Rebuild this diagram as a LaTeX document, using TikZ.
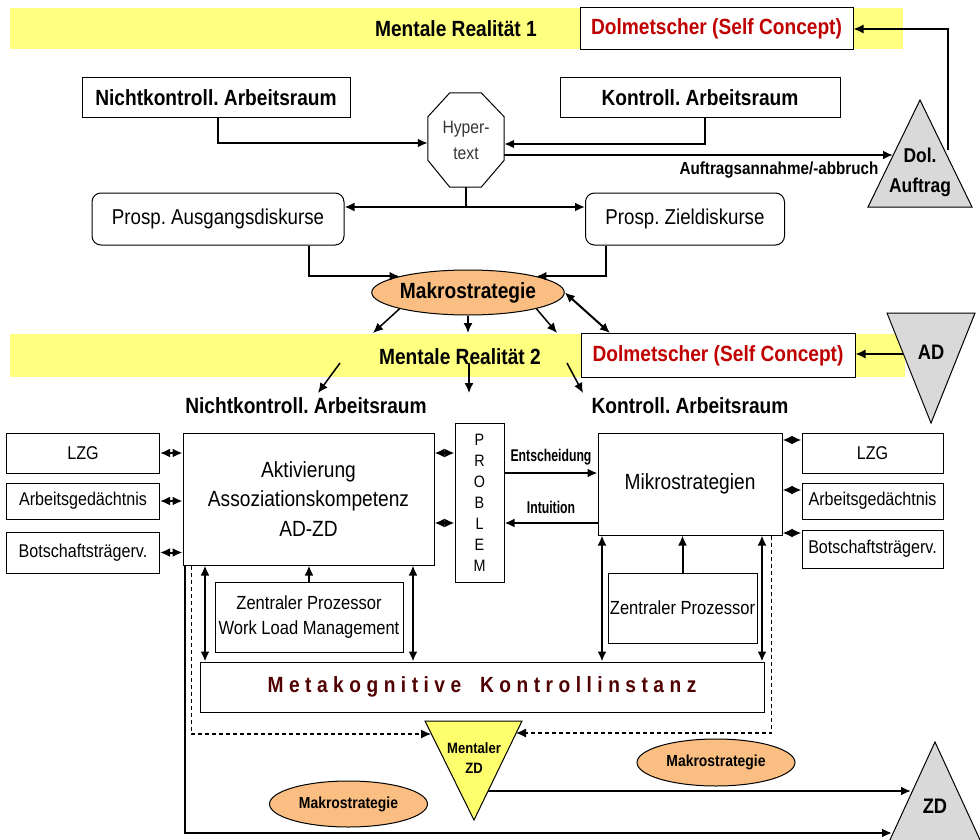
\documentclass[tikz,border=0pt]{standalone}
\usepackage{fontspec}
\setmainfont{Liberation Sans}[FakeStretch=0.87]
\newfontfamily\narrowfont{Liberation Sans}[FakeStretch=0.72]
\newfontfamily\spacedfont{Liberation Sans}[FakeStretch=0.87,LetterSpace=25]
\usepackage{xcolor}
\definecolor{bandyellow}{RGB}{255,255,128}
\definecolor{zdyellow}{RGB}{255,255,110}
\definecolor{makroorange}{RGB}{250,190,130}
\definecolor{trigray}{RGB}{217,217,217}
\definecolor{dolred}{RGB}{192,0,0}
\definecolor{metared}{RGB}{80,0,0}
\usetikzlibrary{arrows.meta,shapes.geometric}

\tikzset{
  box/.style={draw, fill=white, line width=1pt, inner sep=0pt, align=center},
  roundbox/.style={box, rounded corners=9pt},
  makro/.style={ellipse, draw, fill=makroorange, line width=1pt, inner sep=0pt},
  tri/.style={draw, line width=1pt},
  arr/.style={line width=2pt, -{Latex[length=10pt,width=9pt]}},
  darr/.style={line width=2pt, {Latex[length=10pt,width=9pt]}-{Latex[length=10pt,width=9pt]}},
  dashline/.style={line width=1.2pt, dash pattern=on 4pt off 3pt, -{Latex[length=10pt,width=9pt]}},
  head/.style={font=\fontsize{22}{26}\selectfont\bfseries},
  body/.style={font=\fontsize{22}{29.5}\selectfont},
  small/.style={font=\fontsize{18.5}{22}\selectfont},
  tag/.style={font=\narrowfont\fontsize{17}{20}\selectfont\bfseries}
}

\begin{document}
\frenchspacing
\begin{tikzpicture}[x=1pt, y=-1pt]
\useasboundingbox (0,0) rectangle (980,840);

% bands
\fill[bandyellow] (10,8) rectangle (903,49);
\fill[bandyellow] (10,334) rectangle (905,377);

% mentale realitaet 1
\node[head] (mr1) at (456,29) {Mentale Realität 1};
\node[box, head, text=dolred, minimum width=273, minimum height=42] (dol1) at (716.5,29) {Dolmetscher (Self Concept)};
\node[box, head, minimum width=268, minimum height=40] (nk1) at (216,98) {Nichtkontroll. Arbeitsraum};
\node[box, head, minimum width=280, minimum height=40] (k1) at (700,98) {Kontroll. Arbeitsraum};
\node[align=center, inner sep=0pt, minimum width=76, minimum height=94,
      font=\fontsize{18}{26}\selectfont, text=black!80] (hyp) at (466,140) {Hyper-\\text};
\draw[line width=1pt] ([xshift=22]hyp.north west) -- ([xshift=-23]hyp.north east)
  -- ([yshift=-24]hyp.north east) -- ([yshift=27]hyp.south east)
  -- ([xshift=-23]hyp.south east) -- ([xshift=22]hyp.south west)
  -- ([yshift=27]hyp.south west) -- ([yshift=-24]hyp.north west) -- cycle;

% dol. auftrag
\draw[tri, fill=trigray] (868,207) -- (920,100) -- (972,207) -- cycle;
\node[align=center, font=\fontsize{20}{30}\selectfont\bfseries] (auftrag) at (920,172) {Dol.\\Auftrag};
\coordinate (auftragin) at (893,155);
\coordinate (auftragout) at (948,150);

\draw[arr] ([xshift=2]nk1.south) |- ([yshift=-3]hyp.west);
\draw[arr] ([xshift=5]k1.south) |- ([yshift=-4]hyp.east);
\draw[arr] (hyp.east |- auftragin) -- (auftragin);
\node[font=\fontsize{17.5}{20}\selectfont\bfseries] (annahme) at (779,170) {Auftragsannahme/-abbruch};
\draw[line width=1.5pt, -{Latex[length=10pt,width=9pt]}] (auftragout) |- (dol1.east);

% prospektive diskurse
\node[roundbox, font=\fontsize{21.5}{26}\selectfont, minimum width=252, minimum height=52] (ausg) at (218,219) {Prosp. Ausgangsdiskurse};
\node[roundbox, font=\fontsize{21.5}{26}\selectfont, minimum width=199, minimum height=52] (ziel) at (685,219) {Prosp. Zieldiskurse};
\coordinate (hj) at (466,207);
\draw[line width=2pt] (hyp.south) -- (hj);
\draw[darr] (ausg.east |- hj) -- (ziel.west |- hj);

% makrostrategie
\node[makro, head, minimum width=192, minimum height=45] (makro) at (468,292.5) {Makrostrategie};
\draw[arr] ([xshift=91]ausg.south) |- (makro.north west);
\draw[arr] ([xshift=-79]ziel.south) |- (makro.north east);
\coordinate (m1) at (373,333);
\coordinate (m2) at (468,333);
\coordinate (m3) at (557,333);
\draw[arr, line width=1.5pt] (makro.south west) -- (m1);
\draw[arr, line width=1.5pt] (makro.south) -- (m2);
\draw[arr, line width=1.5pt] (makro.south east) -- (m3);

% mentale realitaet 2
\node[head] (mr2) at (460,357) {Mentale Realität 2};
\node[box, head, text=dolred, minimum width=274, minimum height=44] (dol2) at (718,355.5) {Dolmetscher (Self Concept)};
\draw[darr] (makro.east) -- ([xshift=-108]dol2.north);
\draw[tri, fill=trigray] (887,313) -- (975,313) -- (931,423) -- cycle;
\node[font=\fontsize{21}{24}\selectfont\bfseries] (ad) at (931,352) {AD};
\coordinate (adout) at (903,354);
\draw[line width=1.5pt, -{Latex[length=10pt,width=9pt]}] (adout) -- (dol2.east |- adout);

\node[head] (nk2) at (306,406) {Nichtkontroll. Arbeitsraum};
\node[head] (k2) at (690,406) {Kontroll. Arbeitsraum};
\coordinate (b1s) at (340,363); \coordinate (b1e) at (318,393);
\coordinate (b2s) at (469,363); \coordinate (b2e) at (469,393);
\coordinate (b3s) at (567,363); \coordinate (b3e) at (583,393);
\draw[arr, line width=1.5pt] (b1s) -- (b1e);
\draw[arr, line width=1.5pt] (b2s) -- (b2e);
\draw[arr, line width=1.5pt] (b3s) -- (b3e);

% nichtkontroll. seite
\node[box, small, minimum width=153, minimum height=40] (lzgL) at (83,453) {LZG};
\node[box, small, minimum width=153, minimum height=36] (agL) at (83,501) {Arbeitsgedächtnis};
\node[box, small, minimum width=153, minimum height=41] (bsL) at (83,552.5) {Botschaftsträgerv.};
\node[box, body, minimum width=251, minimum height=132] (akt) at (308.5,499) {Aktivierung\\Assoziationskompetenz\\AD-ZD};
\draw[darr] (lzgL.east) -- (lzgL.east -| akt.west);
\draw[darr] (agL.east) -- (agL.east -| akt.west);
\draw[darr] (bsL.east) -- (bsL.east -| akt.west);

% problem
\node[box, align=center, font=\fontsize{16.5}{21}\selectfont, minimum width=49, minimum height=159] (prob) at (479.5,502.5) {P\\R\\O\\B\\L\\E\\M};
\draw[darr] (akt.east |- 0,453) -- (prob.west |- 0,453);
\draw[darr] (akt.east |- 0,523) -- (prob.west |- 0,523);

% kontroll. seite
\node[box, body, minimum width=184, minimum height=102] (mikro) at (690,484) {Mikrostrategien};
\draw[arr] (prob.east |- 0,473) -- (mikro.west |- 0,473)
  node[tag, midway, above=4pt] (entsch) {Entscheidung};
\draw[arr] (mikro.west |- 0,523) -- (prob.east |- 0,523)
  node[tag, midway, above=5pt] (intui) {Intuition};
\node[box, small, minimum width=141, minimum height=40] (lzgR) at (872.5,453) {LZG};
\node[box, small, minimum width=141, minimum height=36] (agR) at (872.5,501) {Arbeitsgedächtnis};
\node[box, small, minimum width=141, minimum height=38] (bsR) at (872.5,549) {Botschaftsträgerv.};
\draw[darr] (mikro.east |- 0,440) -- (lzgR.west |- 0,440);
\draw[darr] (mikro.east |- 0,490) -- (agR.west |- 0,490);
\draw[darr] (mikro.east |- 0,533) -- (bsR.west |- 0,533);

% zentrale prozessoren
\node[box, font=\fontsize{19}{25}\selectfont, minimum width=188, minimum height=70] (zpL) at (309,617) {Zentraler Prozessor\\Work Load Management};
\node[box, font=\fontsize{19}{25}\selectfont, minimum width=149, minimum height=70] (zpR) at (682.5,608) {Zentraler Prozessor};
\node[box, minimum width=564, minimum height=50, text=metared,
      font=\spacedfont\fontsize{22}{26}\selectfont\bfseries] (meta) at (482,687) {Metakognitive\hspace{8pt} Kontrollinstanz};
\draw[arr] (zpL.north) -- (zpL.north |- akt.south);
\draw[arr] (zpR.north) -- (zpR.north |- mikro.south);
\draw[darr] (akt.south -| 205,0) -- (meta.north -| 205,0);
\draw[darr] (akt.south -| 413,0) -- (meta.north -| 413,0);
\draw[darr] (mikro.south -| 602,0) -- (meta.north -| 602,0);
\draw[darr] (mikro.south -| 762,0) -- (meta.north -| 762,0);

% mentaler ZD
\draw[tri, fill=zdyellow] (425,721) -- (522,721) -- (474,820) -- cycle;
\node[align=center, font=\fontsize{15}{20}\selectfont\bfseries] (mzd) at (474,758) {Mentaler\\ZD};
\coordinate (mzdinL) at (431,734);
\coordinate (mzdinR) at (516,733);
\coordinate (mzdout) at (488,791);
\draw[dashline] ([xshift=9]akt.south west) |- (mzdinL);
\draw[dashline] ([xshift=-11]mikro.south east) |- (mzdinR);

\node[makro, font=\fontsize{16}{20}\selectfont\bfseries, minimum width=158, minimum height=47] (mkR) at (716,762.5) {Makrostrategie};
\node[makro, font=\fontsize{16}{20}\selectfont\bfseries, minimum width=158, minimum height=46] (mkL) at (348.5,804) {Makrostrategie};

% ZD
\draw[tri, fill=trigray] (889,842) -- (935,742) -- (981,842) -- cycle;
\node[font=\fontsize{21}{24}\selectfont\bfseries] (zd) at (935,806) {ZD};
\coordinate (zdin1) at (911,791);
\coordinate (zdin2) at (892,833);
\draw[arr] (mzdout) -- (zdin1);
\draw[arr] ([xshift=2]akt.south west) |- (zdin2);
\end{tikzpicture}
\end{document}
